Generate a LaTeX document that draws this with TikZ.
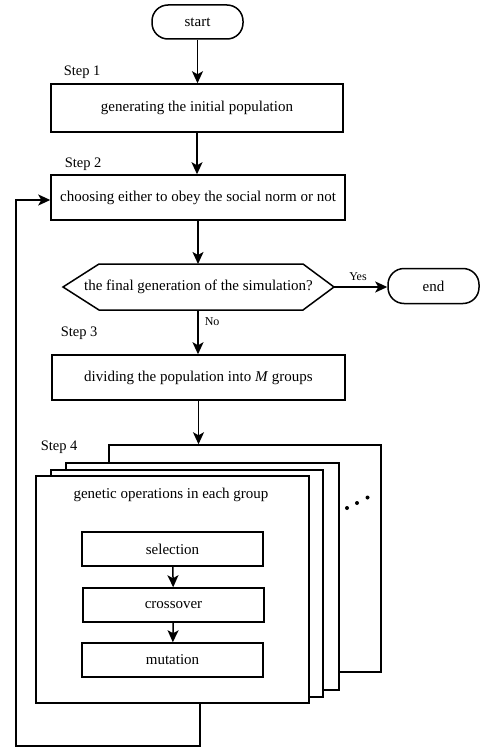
\documentclass[tikz,border=0pt]{standalone}
\usepackage{fontspec}
\setmainfont{Liberation Serif}
\usetikzlibrary{arrows.meta}
\begin{document}
\begin{tikzpicture}[x=1pt,y=-1pt,
  line width=1.5pt,
  every node/.style={font=\fontsize{15}{18}\selectfont, inner sep=0pt},
  box/.style={draw, fill=white, minimum width=#1},
  term/.style={draw, rounded corners=16pt, minimum width=91pt, minimum height=34pt},
  steplabel/.style={font=\fontsize{14.5}{17}\selectfont, anchor=west},
  small/.style={font=\fontsize{12}{14}\selectfont},
  arr/.style={-{Stealth[length=12pt,width=11pt,inset=3pt]}}]
\useasboundingbox (0,0) rectangle (481,749);

% top part
\node[term] (start) at (197.5,22) {start};
\node[steplabel] (s1) at (63,72) {Step 1};
\node[box=292pt, minimum height=48pt] (b1) at (197,108) {generating the initial population};
\node[steplabel] (s2) at (64,164) {Step 2};
\node[box=294pt, minimum height=45pt] (b2) at (198,197.5) {choosing either to obey the social norm or not};

% decision hexagon
\coordinate (decL) at (63,287);
\coordinate (decR) at (334,287);
\coordinate (decT) at (198,264);
\coordinate (decB) at (198,310);
\draw (decL) -- (99,264) -- (303,264) -- (decR) -- (303,310) -- (99,310) -- cycle;
\node (dec) at (198.5,287) {the final generation of the simulation?};

\node[term, minimum height=35pt] (end) at (433.5,286) {end};
\node[small] (yes) at (358,277) {Yes};
\node[small, anchor=west] (no) at (204,322) {No};

\node[steplabel] (s3) at (60,333) {Step 3};
\node[box=293pt, minimum height=45pt] (b3) at (198.5,377.5) {dividing the population into \textit{M} groups};

% step 4 stack
\node[steplabel] (s4) at (40,447) {Step 4};
\node[box=272pt, minimum height=227pt] (g4) at (245,558.5) {};
\node[box=273pt, minimum height=227pt] (g3) at (202.5,576.5) {};
\node[box=272pt, minimum height=227pt] (g2) at (187,583.5) {};
\node[box=273pt, minimum height=227pt] (g1) at (172.5,589.5) {};
\node (gt) at (171,495) {genetic operations in each group};
\node[box=181pt, minimum height=34pt] (sel) at (172.5,549) {selection};
\node[box=181pt, minimum height=34pt] (cro) at (173.5,605) {crossover};
\node[box=181pt, minimum height=34pt] (mut) at (172.5,660) {mutation};

\fill (347,508) circle (2pt);
\fill (357,503) circle (2pt);
\fill (367.5,497.5) circle (2pt);

% connectors
\draw[arr] (start) -- (start |- b1.north);
\draw[arr] (b1) -- (b1 |- b2.north);
\draw[arr] (b2.south) -- (decT);
\draw[arr] (decR) -- (decR -| end.west);
\draw[arr] (decB) -- (decB |- b3.north);
\draw[arr] (b3.south) -- (b3.south |- g4.north);
\draw[arr] (sel) -- (cro);
\draw[arr] (cro) -- (mut);
\coordinate (lc) at (16,746);
\draw[arr] ([xshift=27.5pt]g1.south) |- (lc) |- ([yshift=-2.5pt]b2.west);
\end{tikzpicture}
\end{document}
